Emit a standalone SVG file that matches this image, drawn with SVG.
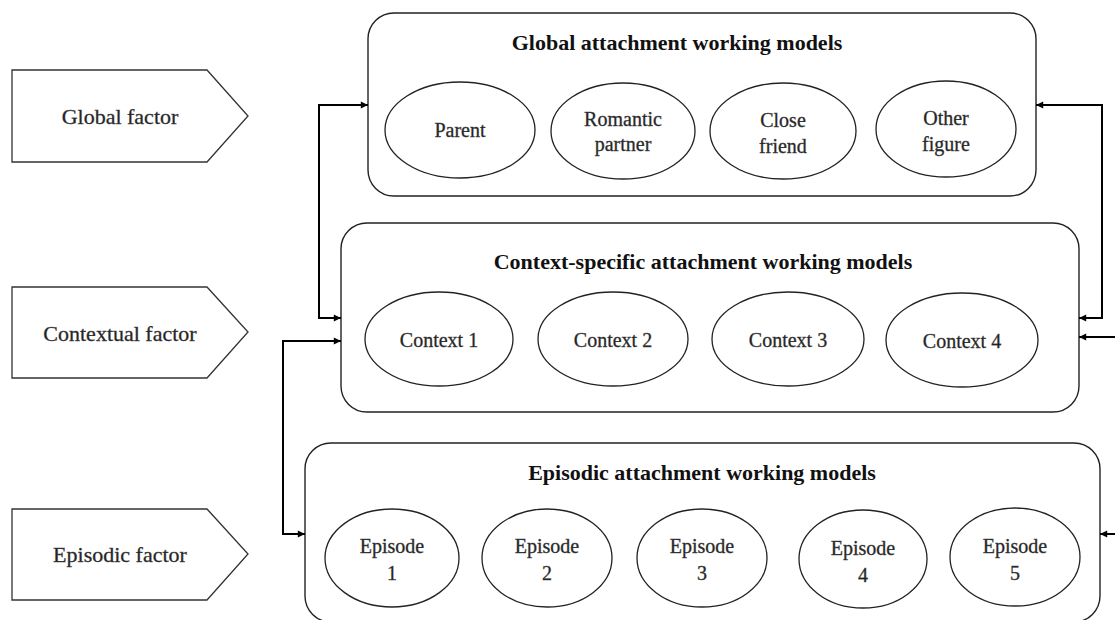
<svg xmlns="http://www.w3.org/2000/svg" width="1115" height="620" viewBox="0 0 1115 620">
<defs>
<marker id="arr" viewBox="0 0 10 10" refX="10" refY="5" markerWidth="4" markerHeight="3.6" orient="auto-start-reverse" markerUnits="strokeWidth">
<path d="M0,0 L10,5 L0,10 z" fill="#000"/>
</marker>
</defs>
<style>
.box{fill:#fff;stroke:#222;stroke-width:1.4}
.ell{fill:#fff;stroke:#222;stroke-width:1.3}
.pent{fill:#fff;stroke:#333;stroke-width:1.3}
.lbl{font-family:"Liberation Serif","Times New Roman",serif;font-size:20px;fill:#222;stroke:#444;stroke-width:0.35;text-anchor:middle}
.plbl{font-size:22px}
.ttl{font-family:"Liberation Serif","Times New Roman",serif;font-size:22px;font-weight:bold;fill:#111;text-anchor:middle}
.con{fill:none;stroke:#000;stroke-width:2}
</style>
<rect width="1115" height="620" fill="#fff"/>

<g id="global-factor">
<polygon class="pent" points="12,70 207,70 248,116 207,162 12,162"/>
<text class="lbl plbl" x="120" y="124">Global factor</text>
</g>
<g id="contextual-factor">
<polygon class="pent" points="12,287 207,287 248,332 207,378 12,378"/>
<text class="lbl plbl" x="120" y="341">Contextual factor</text>
</g>
<g id="episodic-factor">
<polygon class="pent" points="12,509 207,509 248,554 207,600 12,600"/>
<text class="lbl plbl" x="120" y="562">Episodic factor</text>
</g>

<g id="global-models">
<rect class="box" x="368" y="13" width="668" height="183" rx="26"/>
<text class="ttl" x="677" y="50">Global attachment working models</text>
<ellipse class="ell" cx="460" cy="130" rx="75" ry="48"/>
<text class="lbl" x="460" y="137">Parent</text>
<ellipse class="ell" cx="623" cy="131" rx="72" ry="48"/>
<text class="lbl" x="623" y="126">Romantic</text>
<text class="lbl" x="623" y="151">partner</text>
<ellipse class="ell" cx="783" cy="131" rx="73" ry="48"/>
<text class="lbl" x="783" y="127">Close</text>
<text class="lbl" x="783" y="153">friend</text>
<ellipse class="ell" cx="946" cy="129" rx="70" ry="48"/>
<text class="lbl" x="946" y="125">Other</text>
<text class="lbl" x="946" y="151">figure</text>
</g>

<g id="context-models">
<rect class="box" x="341" y="223" width="738" height="189" rx="26"/>
<text class="ttl" x="703" y="269">Context-specific attachment working models</text>
<ellipse class="ell" cx="439" cy="339" rx="74" ry="47"/>
<text class="lbl" x="439" y="347">Context 1</text>
<ellipse class="ell" cx="613" cy="339" rx="75" ry="47"/>
<text class="lbl" x="613" y="347">Context 2</text>
<ellipse class="ell" cx="788" cy="339" rx="76" ry="47"/>
<text class="lbl" x="788" y="347">Context 3</text>
<ellipse class="ell" cx="962" cy="340" rx="76" ry="47"/>
<text class="lbl" x="962" y="348">Context 4</text>
</g>

<g id="episodic-models">
<rect class="box" x="305" y="443" width="795" height="179" rx="26"/>
<text class="ttl" x="702" y="480">Episodic attachment working models</text>
<ellipse class="ell" cx="392" cy="558" rx="67" ry="49"/>
<text class="lbl" x="392" y="553">Episode</text>
<text class="lbl" x="392" y="580">1</text>
<ellipse class="ell" cx="547" cy="558" rx="65" ry="49"/>
<text class="lbl" x="547" y="553">Episode</text>
<text class="lbl" x="547" y="580">2</text>
<ellipse class="ell" cx="702" cy="558" rx="65" ry="49"/>
<text class="lbl" x="702" y="553">Episode</text>
<text class="lbl" x="702" y="580">3</text>
<ellipse class="ell" cx="863" cy="559" rx="64" ry="49"/>
<text class="lbl" x="863" y="555">Episode</text>
<text class="lbl" x="863" y="582">4</text>
<ellipse class="ell" cx="1015" cy="557" rx="65" ry="49"/>
<text class="lbl" x="1015" y="553">Episode</text>
<text class="lbl" x="1015" y="580">5</text>
</g>

<g id="connectors">
<path class="con" d="M368,105 H319 V318 H341" marker-start="url(#arr)" marker-end="url(#arr)"/>
<path class="con" d="M341,341 H283 V534 H305" marker-start="url(#arr)" marker-end="url(#arr)"/>
<path class="con" d="M1036,105 H1102 V318 H1079" marker-start="url(#arr)" marker-end="url(#arr)"/>
<path class="con" d="M1115,337 H1079" marker-end="url(#arr)"/>
<path class="con" d="M1115,534 H1100" marker-end="url(#arr)"/>
</g>
</svg>
